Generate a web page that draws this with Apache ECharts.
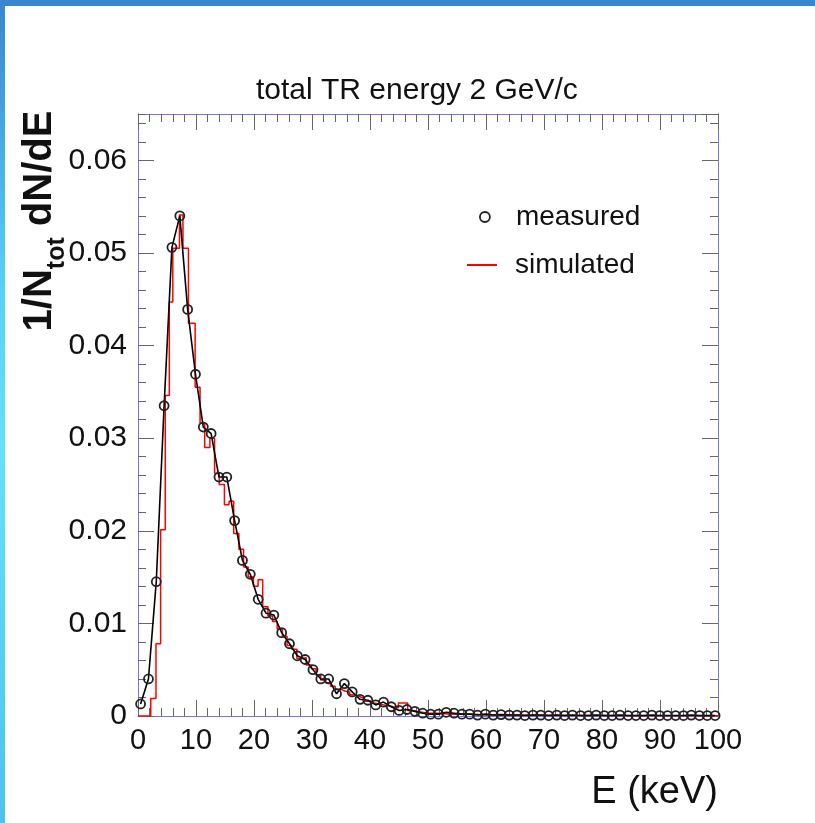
<!DOCTYPE html>
<html>
<head>
<meta charset="utf-8">
<title>total TR energy 2 GeV/c</title>
<script src="https://cdn.jsdelivr.net/npm/echarts@6/dist/echarts.min.js"></script>
<style>
  html, body { margin: 0; padding: 0; background: #fff; }
  #wrap { position: relative; width: 815px; height: 823px; overflow: hidden; }
  #topbar { position: absolute; left: 0; top: 0; width: 815px; height: 6px; background: #3786d0; }
  #leftbar { position: absolute; left: 0; top: 0; width: 5px; height: 823px;
    background: linear-gradient(#3786d0, #56d2f6 35%, #62e2fb 55%, #4cc2ec); }
  #chart { position: absolute; left: 0; top: 0; width: 815px; height: 823px; }
</style>
</head>
<body>
<div id="wrap">
  <div id="chart"></div>
  <div id="topbar"></div>
  <div id="leftbar"></div>
</div>
<script>
// measured points (E in keV, 1/Ntot dN/dE)
const measE = [0.45, 1.8, 3.15, 4.5, 5.85, 7.21, 8.56, 9.91, 11.26, 12.61,
  13.96, 15.31, 16.66, 18.01, 19.36, 20.72, 22.07, 23.42, 24.77, 26.12,
  27.47, 28.82, 30.17, 31.52, 32.87, 34.23, 35.58, 36.93, 38.28, 39.63,
  40.98, 42.33, 43.68, 45.03, 46.38, 47.74, 49.09, 50.44, 51.79, 53.14,
  54.49, 55.84, 57.19, 58.54, 59.89, 61.25, 62.6, 64.0, 65.35, 66.7,
  68.1, 69.45, 70.8, 72.2, 73.55, 74.9, 76.3, 77.65, 79.0, 80.4,
  81.75, 83.1, 84.5, 85.85, 87.2, 88.6, 89.95, 91.3, 92.7, 94.05,
  95.4, 96.8, 98.15, 99.5];
const measY = [0.0013, 0.0040, 0.0145, 0.0335, 0.0506, 0.0540, 0.0439, 0.0369, 0.0312, 0.0305,
  0.0258, 0.0258, 0.0211, 0.0168, 0.0153, 0.0126, 0.0111, 0.0109, 0.0090, 0.0078,
  0.0065, 0.0061, 0.0050, 0.0040, 0.0040, 0.0024, 0.0035, 0.0026, 0.0018, 0.0017,
  0.0012, 0.0015, 0.0010, 0.0006, 0.0007, 0.0005, 0.0003, 0.0002, 0.0002, 0.0004,
  0.0003, 0.0002, 0.0002, 0.0001, 0.0002, 0.0001, 0.00015, 0.0001, 0.0001, 0.00005,
  0.0001, 0.0001, 0.00005, 0.0001, 0.00005, 0.0001, 0.00005, 0.00005, 0.0001, 0.00005,
  0.00005, 0.0001, 0.00005, 0.00005, 0.00005, 0.0001, 0.00005, 0.00005, 0.00005, 0.00005,
  0.0001, 0.00005, 0.00005, 0.00005];

// simulated histogram: bin edges and bin contents
const simEdges = [0, 2.2, 3.1, 3.9, 4.7, 5.4, 6.0, 7.15, 7.75, 8.7,
  9.85, 10.7, 11.5, 12.4, 13.2, 14.0, 14.9, 15.7, 16.5, 17.4,
  18.2, 19.0, 19.9, 20.7, 21.5, 22.4, 23.2, 24.0, 24.9, 25.7,
  26.5, 27.4, 28.2, 29.0, 29.9, 30.7, 31.5, 32.4, 33.2, 34.0,
  34.9, 35.7, 36.5, 37.4, 38.2, 39.0, 39.9, 40.7, 41.5, 42.4,
  43.2, 44.0, 44.9, 45.7, 46.5, 47.4, 48.2, 49.0, 50, 52,
  54, 56, 58, 60, 62, 65, 70, 75, 80, 85,
  90, 95, 100];
const simVals = [0, 0.0019, 0.0078, 0.0201, 0.0346, 0.0447, 0.0505, 0.0541, 0.0505, 0.0424,
  0.0355, 0.0316, 0.0290, 0.0300, 0.0262, 0.0250, 0.0228, 0.0232, 0.0197, 0.0180,
  0.0161, 0.0150, 0.0140, 0.0147, 0.0118, 0.0108, 0.0102, 0.0094, 0.0086, 0.0076,
  0.0072, 0.0062, 0.0063, 0.0055, 0.0051, 0.0044, 0.0039, 0.0036, 0.0032, 0.0029,
  0.0027, 0.0026, 0.0023, 0.0021, 0.0019, 0.0016, 0.0014, 0.0013, 0.0012, 0.0011,
  0.0010, 0.0009, 0.0014, 0.0014, 0.0006, 0.0005, 0.0004, 0.0003, 0.0003, 0.0002,
  0.0002, 0.0002, 0.0001, 0.0001, 0.0001, 0.00008, 0.00005, 0.00005, 0.00004, 0.00003,
  0.00003, 0.00002];

const xTicks = { min: 0, max: 100, interval: 10 };
const yTicks = { min: 0, max: 0.065, interval: 0.01, minorInterval: 0.002 };

const FONT = 'Liberation Sans';
const FRAME = '#7272ff';
const TICK = '#666';

const measData = measE.map((e, i) => [e, measY[i]]);
const simData = simVals.map((v, i) => [simEdges[i], v]);
simData.push([simEdges[simEdges.length - 1], simVals[simVals.length - 1]]);

const chart = echarts.init(document.getElementById('chart'));

function xAxis(pos, labels) {
  return {
    type: 'value', position: pos, min: xTicks.min, max: xTicks.max, interval: xTicks.interval,
    axisLine: { show: true, onZero: false, lineStyle: { color: FRAME, width: 1 } },
    axisTick: { show: true, inside: true, length: 16, lineStyle: { color: TICK } },
    minorTick: { show: true, splitNumber: 5, length: 8, lineStyle: { color: TICK } },
    axisLabel: { show: labels, fontSize: 29, color: '#111', fontFamily: FONT, margin: 10 },
    splitLine: { show: false }
  };
}
function yAxis(pos, major) {
  return {
    type: 'value', position: pos, min: yTicks.min, max: yTicks.max,
    interval: major ? yTicks.interval : yTicks.minorInterval,
    axisLine: { show: true, onZero: false, lineStyle: { color: FRAME, width: 1 } },
    axisTick: { show: true, inside: true, length: major ? 16 : 8, lineStyle: { color: TICK } },
    axisLabel: {
      show: major && pos === 'left', showMaxLabel: false,
      fontSize: 30, color: '#111', fontFamily: FONT, margin: 11,
      formatter: (v) => (v === 0 ? '0' : v.toFixed(2))
    },
    splitLine: { show: false }
  };
}

chart.setOption({
  backgroundColor: 'transparent',
  animation: false,
  title: {
    text: 'total TR energy 2 GeV/c',
    left: 251, top: 71,
    textStyle: { fontSize: 30, fontWeight: 'normal', color: '#111', fontFamily: FONT }
  },
  grid: { left: 138, top: 114, width: 580, height: 602 },
  legend: [
    {
      left: 474, top: 198, selectedMode: false, itemWidth: 10, itemHeight: 10,
      textStyle: { fontSize: 28, color: '#111', fontFamily: FONT, padding: [0, 0, 0, 21] },
      data: [{ name: 'measured', icon: 'circle',
        itemStyle: { color: 'transparent', borderColor: '#222', borderWidth: 1.8 } }]
    },
    {
      left: 462, top: 246, selectedMode: false, itemWidth: 30, itemHeight: 2,
      textStyle: { fontSize: 28, color: '#111', fontFamily: FONT, padding: [0, 0, 0, 13] },
      data: [{ name: 'simulated', icon: 'rect', itemStyle: { color: '#ff0000' } }]
    }
  ],
  xAxis: [xAxis('bottom', true), xAxis('top', false)],
  yAxis: [yAxis('left', true), yAxis('left', false), yAxis('right', true), yAxis('right', false)],
  graphic: [
    {
      type: 'text', x: 45, y: 221, rotation: Math.PI / 2,
      style: {
        text: '{a|1/N}{s|tot}{a| dN/dE}',
        align: 'center', verticalAlign: 'middle',
        rich: {
          a: { fontSize: 40, fontWeight: 'bold', fontFamily: FONT, fill: '#111', lineHeight: 50, verticalAlign: 'top' },
          s: { fontSize: 25, fontWeight: 'bold', fontFamily: FONT, fill: '#111', lineHeight: 26, verticalAlign: 'bottom' }
        }
      }
    },
    {
      type: 'text', x: 718, y: 793,
      style: { text: 'E (keV)', fontSize: 38, fontFamily: FONT, fill: '#111', align: 'right', verticalAlign: 'middle' }
    }
  ],
  series: [
    {
      name: 'simulated', type: 'line', step: 'end', data: simData,
      xAxisIndex: 0, yAxisIndex: 0,
      showSymbol: false, symbol: 'none',
      lineStyle: { color: '#ff0000', width: 1.5 },
      itemStyle: { color: '#ff0000' }
    },
    {
      name: 'measured', type: 'line', data: measData,
      xAxisIndex: 0, yAxisIndex: 0,
      symbol: 'circle', symbolSize: 9,
      lineStyle: { color: '#000', width: 1.6 },
      itemStyle: { color: 'transparent', borderColor: '#222', borderWidth: 1.8 }
    }
  ]
});
</script>
</body>
</html>
